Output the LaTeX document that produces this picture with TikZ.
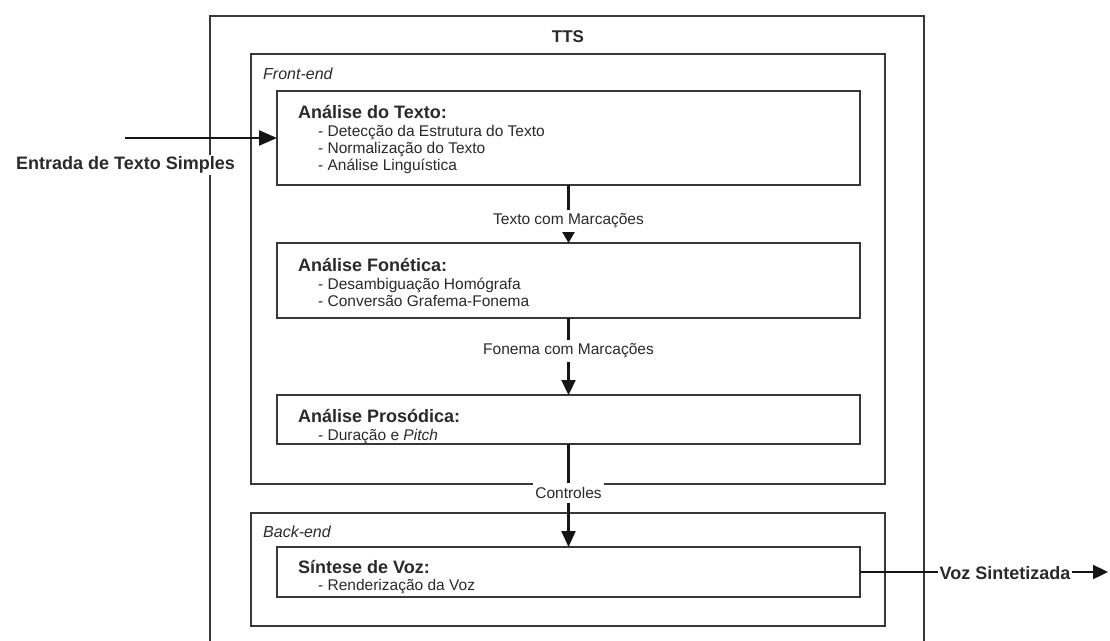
\documentclass[tikz,border=0pt]{standalone}
\usepackage{fontspec}
\setmainfont{Liberation Sans}
\usetikzlibrary{arrows.meta}
\definecolor{ink}{HTML}{2A2A2A}
\definecolor{edge}{HTML}{383838}
\definecolor{wire}{HTML}{151515}
\begin{document}
\begin{tikzpicture}[x=1pt,y=-1pt,
  frame/.style={draw=edge,line width=1.9pt,inner sep=0pt,outer sep=0pt,rectangle},
  boxtitle/.style={anchor=base west,inner sep=0pt,text=ink,font=\fontsize{18}{21}\selectfont\bfseries},
  item/.style={anchor=base west,inner sep=0pt,text=ink,font=\fontsize{15.5}{18}\selectfont},
  region/.style={anchor=base west,inner sep=0pt,text=ink,font=\fontsize{16}{19}\selectfont\itshape},
  flow/.style={draw=wire,line width=2.3pt},
  flowlabel/.style={fill=white,text=ink,inner xsep=2pt,inner ysep=4pt,font=\fontsize{15.5}{18}\selectfont},
  iolabel/.style={fill=white,text=ink,inner sep=2pt,font=\fontsize{18}{21}\selectfont\bfseries},
  ]
\clip (0,0) rectangle (1110,640);
\fill[white] (0,0) rectangle (1110,640);

% containers
\node[frame,minimum width=714pt,minimum height=684pt] (tts) at (567,358) {};
\node[anchor=base,inner sep=0pt,text=ink,font=\fontsize{17}{20}\selectfont\bfseries] (ttstitle) at (568,42) {TTS};
\node[frame,minimum width=634pt,minimum height=430pt] (front) at (568,269) {};
\node[region] (frontlbl) at (263,79) {Front-end};
\node[frame,minimum width=634pt,minimum height=113pt] (back) at (568,569.5) {};
\node[region] (backlbl) at (263,537) {Back-end};

% processing stages
\node[frame,minimum width=583pt,minimum height=94pt] (texto) at (568.5,138) {};
\node[boxtitle] (t1) at (298,118) {Análise do Texto:};
\node[item] (t1a) at (318,136) {- Detecção da Estrutura do Texto};
\node[item] (t1b) at (318,153) {- Normalização do Texto};
\node[item] (t1c) at (318,170) {- Análise Linguística};

\node[frame,minimum width=583pt,minimum height=75pt] (fonet) at (568.5,280.5) {};
\node[boxtitle] (t2) at (298,271) {Análise Fonética:};
\node[item] (t2a) at (318,289) {- Desambiguação Homógrafa};
\node[item] (t2b) at (318,306) {- Conversão Grafema-Fonema};

\node[frame,minimum width=583pt,minimum height=49pt] (prosod) at (568.5,419.5) {};
\node[boxtitle] (t3) at (298,422) {Análise Prosódica:};
\node[item] (t3a) at (318,440) {- Duração e \textit{Pitch}};

\node[frame,minimum width=583pt,minimum height=50pt] (sint) at (568.5,572) {};
\node[boxtitle] (t4) at (298,573) {Síntese de Voz:};
\node[item] (t4a) at (318,590) {- Renderização da Voz};

% connectors
\coordinate (src) at (125,138);
\coordinate (sink) at (1108,572);
\draw[flow,-{Triangle[length=18pt,width=15pt]}] (src) -- (texto.west);
\draw[flow,-{Triangle[length=11pt,width=12pt]}] (texto.south) -- (fonet.north);
\draw[flow,-{Triangle[length=15pt,width=14pt]}] (fonet.south) -- (prosod.north);
\draw[flow,-{Triangle[length=16pt,width=14pt]}] (prosod.south) -- (sint.north);
\draw[flow,-{Triangle[length=15pt,width=14pt]}] (sint.east) -- (sink);

% connector labels
\node[iolabel] (inlbl) at (125.5,165) {Entrada de Texto Simples};
\node[flowlabel] (l1) at (568.5,221) {Texto com Marcações};
\node[flowlabel] (l2) at (568.5,351) {Fonema com Marcações};
\node[flowlabel] (l3) at (568.5,493) {Controles};
\node[iolabel] (outlbl) at (1005,573) {Voz Sintetizada};
\end{tikzpicture}
\end{document}
